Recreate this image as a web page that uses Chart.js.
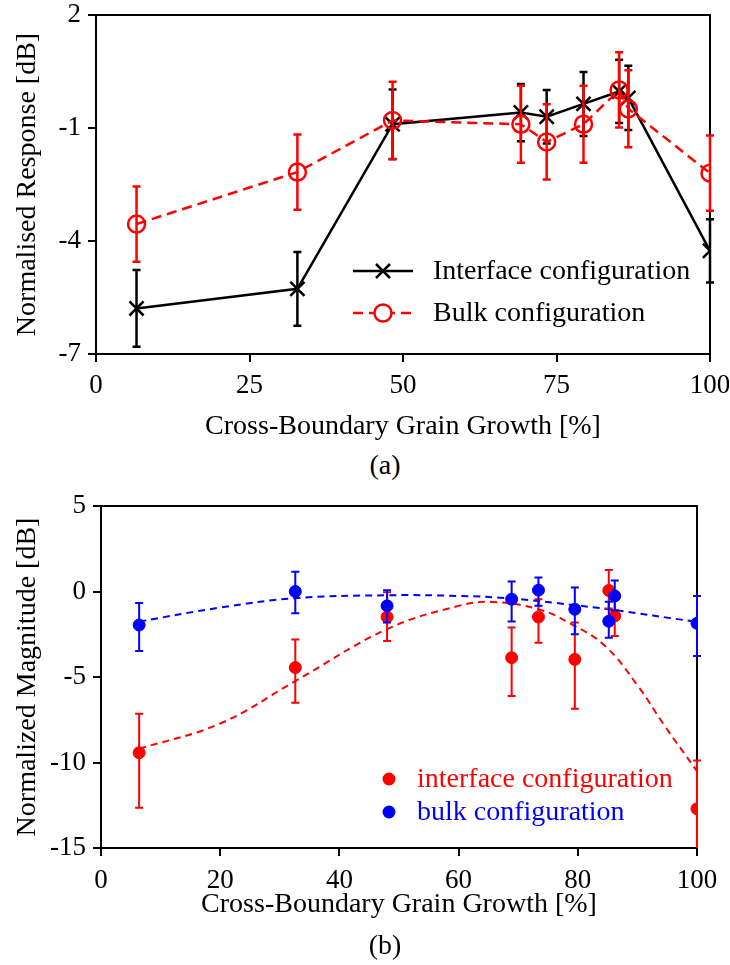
<!DOCTYPE html>
<html>
<head>
<meta charset="utf-8">
<script src="https://cdn.jsdelivr.net/npm/chart.js@4.4.0/dist/chart.umd.min.js"></script>
<style>
  body { margin: 0; background: #fff; width: 730px; height: 965px; position: relative; overflow: hidden; font-family: "Liberation Serif", serif; }
  canvas { position: absolute; left: 0; }
  #topChart { top: 0; }
  #botChart { top: 480px; }
  .caption { position: absolute; left: 0; width: 770px; text-align: center; font-size: 28px; line-height: 30px; color: #000; }
</style>
</head>
<body>
<canvas id="topChart" width="730" height="445"></canvas>
<div class="caption" style="top:450px">(a)</div>
<canvas id="botChart" width="730" height="450"></canvas>
<div class="caption" style="top:930px">(b)</div>
<script>
// ---- panel (a) ----
const growthA = [6.6, 32.8, 48.3, 69.2, 73.4, 79.4, 85.2, 86.7, 100];
const interfaceResp = [-5.79, -5.27, -0.9, -0.59, -0.7, -0.36, -0.03, -0.2, -4.26];
const interfaceErr = [1.02, 0.98, 0.92, 0.76, 0.71, 0.85, 0.84, 0.85, 0.84];
const bulkResp = [-3.55, -2.17, -0.8, -0.9, -1.37, -0.9, 0.01, -0.49, -2.2];
const bulkErr = [1.0, 1.0, 1.03, 1.02, 1.0, 1.02, 1.0, 1.02, 1.0];

// ---- panel (b) ----
const growthB = [6.4, 32.6, 48.0, 68.9, 73.4, 79.5, 85.2, 86.2, 100];
const interfaceMag = [-9.43, -4.45, -1.49, -3.87, -1.49, -3.97, 0.06, -1.43, -12.71];
const interfaceMagHi = [-7.15, -2.8, -0.04, -2.11, -0.45, -1.82, 1.26, -0.3, -9.88];
const interfaceMagLo = [-12.65, -6.5, -2.89, -6.11, -2.99, -6.85, -1.0, -2.6, -16.5];
const bulkMag = [-1.96, 0.0, -0.84, -0.45, 0.08, -1.04, -1.74, -0.26, -1.86];
const bulkMagHi = [-0.67, 1.15, 0.08, 0.59, 0.82, 0.23, -0.6, 0.64, -0.26];
const bulkMagLo = [-3.48, -1.27, -1.82, -1.76, -0.84, -2.5, -2.7, -1.1, -3.77];

// dashed trend curves in (b)
const fitInterfaceX = [6.4, 20, 32.6, 48, 60, 65.6, 73.4, 79, 84.6, 90.1, 94.6, 100];
const fitInterfaceY = [-9.2, -7.72, -5.24, -2.2, -0.84, -0.61, -1.04, -1.92, -3.19, -5.53, -7.87, -10.5];
const fitBulkX = [6.4, 20, 32.6, 48, 60, 69, 79.5, 85.2, 100];
const fitBulkY = [-1.76, -0.94, -0.39, -0.22, -0.26, -0.41, -0.8, -1.04, -1.78];

Chart.defaults.font.family = '"Liberation Serif", "Times New Roman", serif';
Chart.defaults.color = '#000';

const pts = (xs, ys) => xs.map((x, i) => ({ x: x, y: ys[i] }));

// box around the plot area
const frame = {
  id: 'frame',
  beforeDatasetsDraw(chart) {
    const { ctx, chartArea: a } = chart;
    ctx.save();
    ctx.strokeStyle = '#000';
    ctx.lineWidth = 2;
    ctx.strokeRect(a.left, a.top, a.right - a.left, a.bottom - a.top);
    ctx.restore();
  }
};

// vertical error bars with caps
const errorBars = {
  id: 'errorBars',
  beforeDatasetDraw(chart, args) {
    const ds = chart.data.datasets[args.index];
    if (!ds.errLo) return;
    const { ctx, chartArea: a, scales } = chart;
    ctx.save();
    ctx.beginPath();
    ctx.rect(a.left - 10, a.top, a.right - a.left + 20, a.bottom - a.top);
    ctx.clip();
    ctx.strokeStyle = ds.errColor;
    ctx.lineWidth = ds.errWidth || 2;
    ds.data.forEach((p, i) => {
      const px = scales.x.getPixelForValue(p.x);
      const yHi = scales.y.getPixelForValue(ds.errHi[i]);
      const yLo = scales.y.getPixelForValue(ds.errLo[i]);
      const c = ds.capHalf || 4;
      ctx.beginPath();
      ctx.moveTo(px, yHi); ctx.lineTo(px, yLo);
      ctx.moveTo(px - c, yHi); ctx.lineTo(px + c, yHi);
      ctx.moveTo(px - c, yLo); ctx.lineTo(px + c, yLo);
      ctx.stroke();
    });
    ctx.restore();
  }
};

// hand-placed legend inside the plot
const insideLegend = {
  id: 'insideLegend',
  afterDraw(chart, args, opts) {
    const { ctx, chartArea: a } = chart;
    ctx.save();
    opts.items.forEach(it => {
      const x0 = a.left + it.dx, y0 = a.top + it.dy;
      if (it.line) {
        ctx.strokeStyle = it.color;
        ctx.lineWidth = 2.5;
        ctx.setLineDash(it.dash || []);
        ctx.beginPath();
        ctx.moveTo(x0, y0); ctx.lineTo(x0 + 60, y0);
        ctx.stroke();
        ctx.setLineDash([]);
      }
      const mx = x0 + it.markerDx;
      ctx.strokeStyle = it.color;
      ctx.fillStyle = it.color;
      ctx.lineWidth = 2.5;
      if (it.marker === 'crossRot') {
        const r = 7;
        ctx.beginPath();
        ctx.moveTo(mx - r, y0 - r); ctx.lineTo(mx + r, y0 + r);
        ctx.moveTo(mx + r, y0 - r); ctx.lineTo(mx - r, y0 + r);
        ctx.stroke();
      } else if (it.marker === 'ring') {
        ctx.fillStyle = '#fff';
        ctx.beginPath(); ctx.arc(mx, y0, 8.5, 0, Math.PI * 2); ctx.fill(); ctx.stroke();
      } else {
        ctx.beginPath(); ctx.arc(mx, y0, 6.5, 0, Math.PI * 2); ctx.fill();
      }
      ctx.fillStyle = it.textColor || '#000';
      ctx.font = '28px "Liberation Serif", serif';
      ctx.textBaseline = 'middle';
      ctx.fillText(it.text, x0 + it.textDx, y0 + 1);
    });
    ctx.restore();
  }
};

function axisX(titlePad, height, step, tickPad) {
  return {
    type: 'linear', min: 0, max: 100,
    ticks: { stepSize: step, padding: tickPad, font: { size: 27 }, color: '#000', maxRotation: 0 },
    grid: { drawOnChartArea: false, tickLength: 8, color: '#000', lineWidth: 2 },
    border: { color: '#000', width: 2 },
    title: { display: true, text: 'Cross-Boundary Grain Growth [%]', font: { size: 28 }, color: '#000', padding: { top: 0, bottom: titlePad } },
    afterFit: s => { s.height = height; s.paddingLeft = 0; s.paddingRight = 0; }
  };
}
function axisY(text, min, max, step, width) {
  return {
    min: min, max: max,
    ticks: { stepSize: step, padding: 7, font: { size: 27 }, color: '#000' },
    grid: { drawOnChartArea: false, tickLength: 8, color: '#000', lineWidth: 2 },
    border: { color: '#000', width: 2 },
    title: { display: true, text: text, font: { size: 28 }, color: '#000', padding: { top: 11, bottom: 0 } },
    afterFit: s => { s.width = width; s.paddingTop = 0; s.paddingBottom = 0; }
  };
}

new Chart(document.getElementById('topChart'), {
  type: 'scatter',
  data: {
    datasets: [
      {
        label: 'Interface configuration',
        data: pts(growthA, interfaceResp),
        showLine: true, borderColor: '#000', borderWidth: 2.5,
        pointStyle: 'crossRot', pointRadius: 10, pointBorderWidth: 2.5, pointBorderColor: '#000',
        errHi: interfaceResp.map((v, i) => v + interfaceErr[i]),
        errLo: interfaceResp.map((v, i) => v - interfaceErr[i]),
        errColor: '#000', errWidth: 2.5, capHalf: 4,
        order: 1
      },
      {
        label: 'Bulk configuration',
        data: pts(growthA, bulkResp),
        showLine: true, borderColor: '#ff0000', borderWidth: 2.5, borderDash: [10, 6],
        pointStyle: 'circle', pointRadius: 8.5, pointBorderWidth: 2.5, pointBorderColor: '#ff0000',
        pointBackgroundColor: 'rgba(0,0,0,0)',
        errHi: bulkResp.map((v, i) => v + bulkErr[i]),
        errLo: bulkResp.map((v, i) => v - bulkErr[i]),
        errColor: '#ff0000', errWidth: 2.5, capHalf: 4,
        order: 0
      }
    ]
  },
  options: {
    responsive: false, animation: false,
    layout: { padding: { top: 15, right: 20, left: 0, bottom: 0 } },
    plugins: {
      legend: { display: false }, tooltip: { enabled: false },
      insideLegend: {
        items: [
          { dx: 257, dy: 256, line: true, color: '#000', marker: 'crossRot', markerDx: 30, text: 'Interface configuration', textDx: 80 },
          { dx: 257, dy: 298, line: true, color: '#ff0000', dash: [10, 6], marker: 'ring', markerDx: 30, text: 'Bulk configuration', textDx: 80 }
        ]
      }
    },
    scales: {
      x: axisX(2, 91, 25, 8),
      y: axisY('Normalised Response [dB]', -7, 2, 3, 96)
    }
  },
  plugins: [frame, errorBars, insideLegend]
});

new Chart(document.getElementById('botChart'), {
  type: 'scatter',
  data: {
    datasets: [
      {
        label: 'bulk configuration',
        data: pts(growthB, bulkMag),
        pointStyle: 'circle', pointRadius: 6, pointBorderWidth: 1,
        pointBackgroundColor: '#0000ff', pointBorderColor: '#0000ff',
        errHi: bulkMagHi, errLo: bulkMagLo, errColor: '#0000ff', errWidth: 2, capHalf: 4,
        order: 0
      },
      {
        label: 'interface configuration',
        data: pts(growthB, interfaceMag),
        pointStyle: 'circle', pointRadius: 6, pointBorderWidth: 1,
        pointBackgroundColor: '#ff0000', pointBorderColor: '#ff0000',
        errHi: interfaceMagHi, errLo: interfaceMagLo, errColor: '#ff0000', errWidth: 2, capHalf: 4,
        order: 1
      },
      {
        label: 'bulk trend',
        data: pts(fitBulkX, fitBulkY),
        showLine: true, pointRadius: 0, borderColor: '#0000ff', borderWidth: 2, borderDash: [7, 5],
        tension: 0.4,
        order: 2
      },
      {
        label: 'interface trend',
        data: pts(fitInterfaceX, fitInterfaceY),
        showLine: true, pointRadius: 0, borderColor: '#ff0000', borderWidth: 2, borderDash: [7, 5],
        tension: 0.4,
        order: 3
      }
    ]
  },
  options: {
    responsive: false, animation: false,
    layout: { padding: { top: 26, right: 33, left: 0, bottom: 0 } },
    plugins: {
      legend: { display: false }, tooltip: { enabled: false },
      insideLegend: {
        items: [
          { dx: 288, dy: 273, line: false, color: '#ff0000', marker: 'dot', markerDx: 0, text: 'interface configuration', textDx: 28, textColor: '#ff0000' },
          { dx: 288, dy: 306, line: false, color: '#0000ff', marker: 'dot', markerDx: 0, text: 'bulk configuration', textDx: 28, textColor: '#0000ff' }
        ]
      }
    },
    scales: {
      x: axisX(9, 82, 20, 9),
      y: axisY('Normalized Magnitude [dB]', -15, 5, 5, 101)
    }
  },
  plugins: [frame, errorBars, insideLegend]
});
</script>
</body>
</html>
